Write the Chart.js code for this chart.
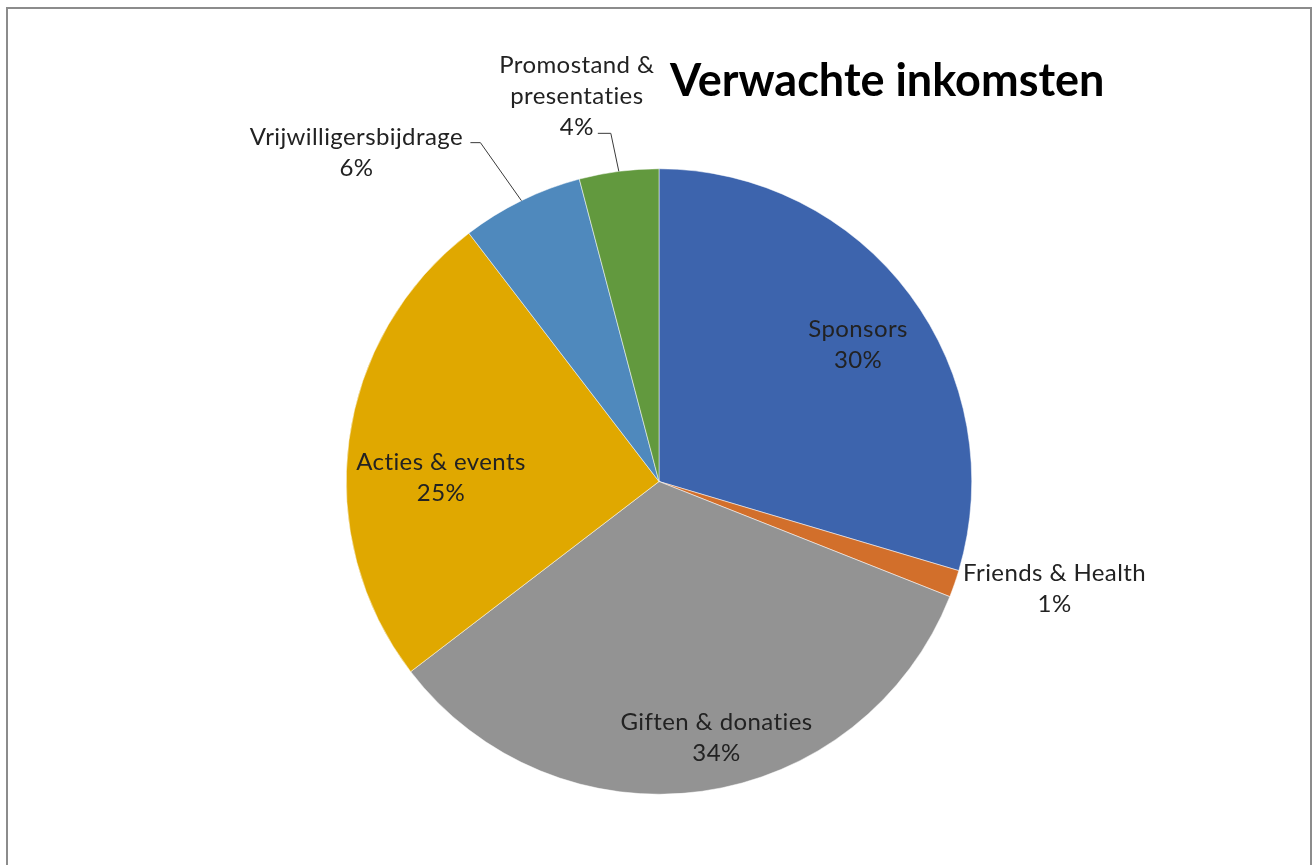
<!DOCTYPE html>
<html>
<head>
<meta charset="utf-8">
<title>Verwachte inkomsten</title>
<script src="https://cdn.jsdelivr.net/npm/chart.js@4.4.1/dist/chart.umd.min.js"></script>
<style>
    html, body { margin: 0; padding: 0; background: #fff; overflow: hidden; }
    #wrap { position: relative; width: 1316px; height: 865px; }
    #frame {
        position: absolute; left: 6px; top: 7px; width: 1306px; height: 900px;
        border: 2px solid #8c8c8c; box-sizing: border-box; pointer-events: none;
    }
</style>
</head>
<body>
<div id="wrap">
    <canvas id="pie-chart"></canvas>
    <div id="frame"></div>
</div>
<script>
const chartTitle = "Verwachte inkomsten";
const categories = [
    "Sponsors",
    "Friends & Health",
    "Giften & donaties",
    "Acties & events",
    "Vrijwilligersbijdrage",
    "Promostand & presentaties",
];
const values = [29.6, 1.4, 33.6, 25.0, 6.3, 4.1];
const colors = ["#3d64ad", "#d26f2b", "#939393", "#e0a800", "#4f89bd", "#62993e"];

// where each data label goes, relative to its slice
const labelPlacement = [
    { inside: true, frac: 0.75, dx: 11, dy: 4 },
    { frac: 1, dx: 100, dy: 5 },
    { inside: true, frac: 0.8, dx: 23, dy: 8 },
    { inside: true, frac: 0.7, dx: -1, dy: 25 },
    { frac: 1, dx: -165, dy: -48, elbow: [-41, -58], tail: -10 },
    { frac: 1, dx: -42, dy: -75, elbow: [-8, -38], tail: -13, maxWidth: 160 },
];

const labelFont = "24px Lato";
const lineHeight = 31;

function wrapText(ctx, text, maxWidth) {
    if (!maxWidth) return [text];
    const words = text.split(" ");
    const lines = [];
    let cur = "";
    words.forEach((w) => {
        const test = cur ? cur + " " + w : w;
        if (cur && ctx.measureText(test).width > maxWidth) {
            lines.push(cur);
            cur = w;
        } else {
            cur = test;
        }
    });
    if (cur) lines.push(cur);
    return lines;
}

const pieLabels = {
    id: "pieLabels",
    afterDatasetsDraw(chart) {
        const ctx = chart.ctx;
        const meta = chart.getDatasetMeta(0);
        const data = chart.data.datasets[0].data;
        const total = data.reduce((a, b) => a + b, 0);

        ctx.save();
        ctx.font = labelFont;
        // a bit of spacing also stops Lato from joining "ti"
        ctx.letterSpacing = "0.4px";
        ctx.fillStyle = "#222222";
        ctx.textAlign = "center";
        ctx.textBaseline = "middle";

        meta.data.forEach((arc, i) => {
            const p = labelPlacement[i];
            const mid = (arc.startAngle + arc.endAngle) / 2;
            const r = arc.outerRadius * p.frac;
            const ax = arc.x + Math.cos(mid) * r;
            const ay = arc.y + Math.sin(mid) * r;

            if (p.elbow) {
                const ex = ax + p.elbow[0];
                const ey = ay + p.elbow[1];
                ctx.beginPath();
                ctx.strokeStyle = "#3a3a3a";
                ctx.lineWidth = 1;
                ctx.moveTo(ax, ay);
                ctx.lineTo(ex, ey);
                ctx.lineTo(ex + p.tail, ey);
                ctx.stroke();
            }

            const lines = wrapText(ctx, chart.data.labels[i], p.maxWidth);
            lines.push(Math.round((data[i] / total) * 100) + "%");
            const cx = ax + p.dx;
            const cy = ay + p.dy;
            lines.forEach((line, k) => {
                ctx.fillText(line, cx, cy + (k - (lines.length - 1) / 2) * lineHeight);
            });
        });
        ctx.restore();
    },
    afterDraw(chart) {
        const ctx = chart.ctx;
        ctx.save();
        ctx.font = "bold 45px Lato";
        ctx.fillStyle = "#000000";
        ctx.textAlign = "left";
        ctx.textBaseline = "alphabetic";
        ctx.fillText(chartTitle, 670, 96);
        ctx.restore();
    },
};

const chartCanvas = document.getElementById("pie-chart");

const pieChart = new Chart(chartCanvas, {
    type: "pie",
    data: {
        labels: categories,
        datasets: [
            {
                data: values,
                backgroundColor: colors,
                borderColor: "#ffffff",
                borderWidth: 0.5,
            },
        ],
    },
    options: {
        responsive: true,
        maintainAspectRatio: false,
        animation: false,
        layout: {
            padding: { top: 168, left: 346, right: 344, bottom: 70 },
        },
        plugins: {
            legend: { display: false },
            tooltip: { enabled: false },
            title: { display: false },
        },
    },
    plugins: [pieLabels],
});
</script>
</body>
</html>
